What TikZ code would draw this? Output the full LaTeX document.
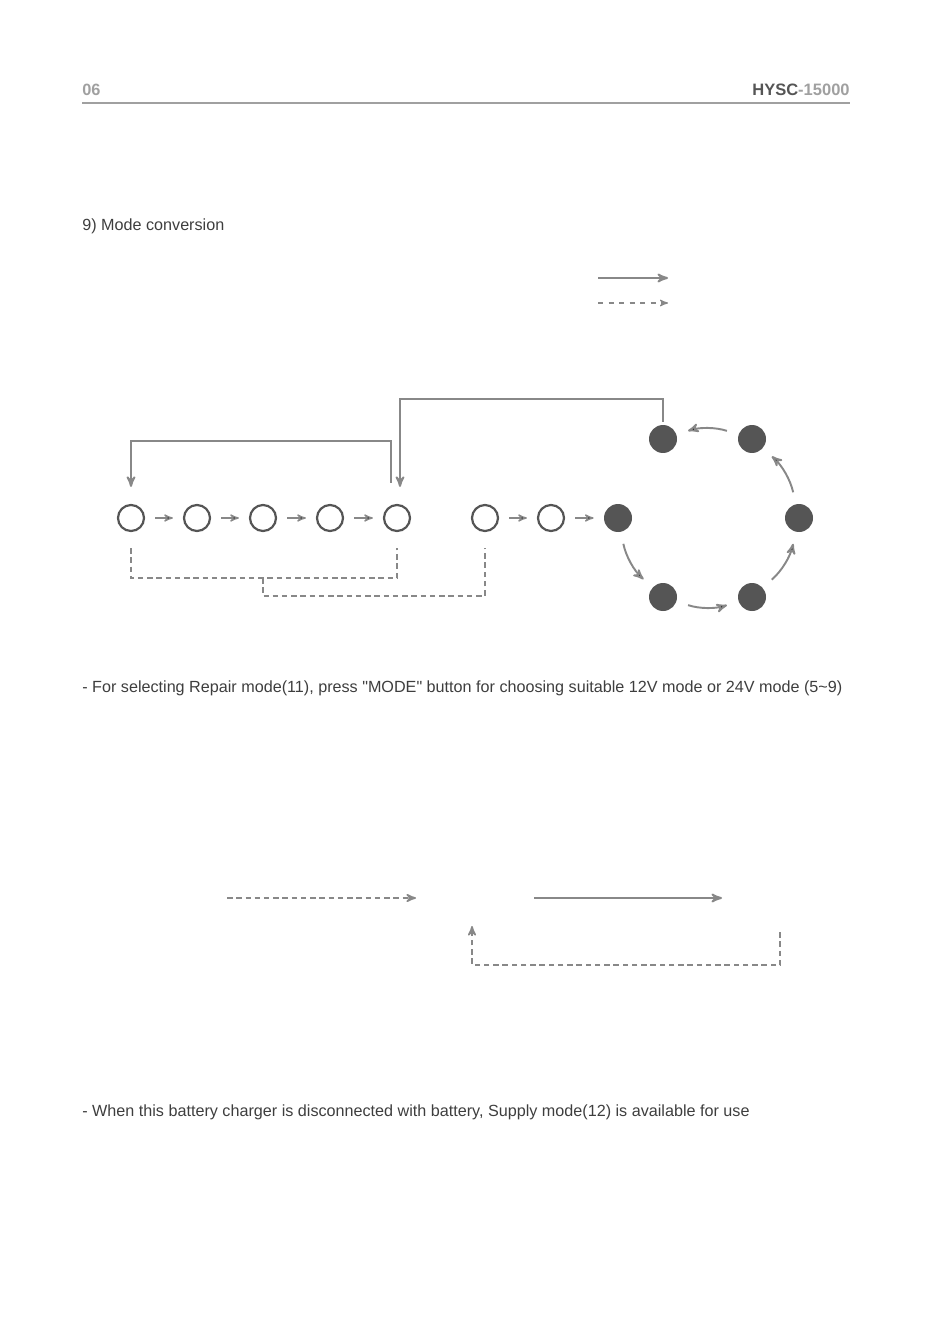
\documentclass[tikz,border=0pt]{standalone}
\usepackage{fontspec}
\setmainfont{Liberation Sans}[Ligatures=TeXOff]
\usepackage{xcolor}
\usetikzlibrary{arrows}

\definecolor{dgray}{HTML}{555555}
\definecolor{tgray}{HTML}{3E3E3E}
\definecolor{lgray}{HTML}{888888}
\definecolor{hgray}{HTML}{A0A0A0}

\tikzset{
  open/.style={circle,draw=dgray,line width=1.25pt,minimum size=0.52cm,inner sep=0pt},
  full/.style={circle,fill=dgray,minimum size=0.56cm,inner sep=0pt},
  flow/.style={->,>=stealth',draw=lgray,line width=1.1pt},
  back/.style={->,>=stealth',draw=lgray,line width=0.95pt,dash pattern=on 0.11cm off 0.075cm},
  txt/.style={anchor=west,inner sep=0pt,text=tgray,font=\fontsize{9.2}{11}\selectfont}
}

\begin{document}
\begin{tikzpicture}[x=0.02cm,y=-0.02cm]
\useasboundingbox (0,0) rectangle (933,1324);

% header
\node[anchor=west,inner sep=0pt,text=hgray,font=\bfseries\fontsize{9.3}{10}\selectfont] (P) at (82,90) {06};
\node[anchor=east,inner sep=0pt,font=\bfseries\fontsize{9.4}{10}\selectfont] (T) at (850,90) {\textcolor{dgray}{HYSC}\textcolor{hgray}{-15000}};
\draw[hgray,line width=0.6pt] (82,103) -- (850,103);

\node[txt] (H) at (82,226) {9) Mode conversion};

% legend
\coordinate (L1) at (598,278);
\coordinate (L2) at (668,278);
\coordinate (L3) at (598,303);
\coordinate (L4) at (668,303);
\draw[flow] (L1) -- (L2);
\draw[back,line width=0.7pt,dash pattern=on 0.1cm off 0.11cm] (L3) -- (L4);

% mode row
\node[open] (A1) at (131,518) {};
\node[open] (A2) at (197,518) {};
\node[open] (A3) at (263,518) {};
\node[open] (A4) at (330,518) {};
\node[open] (A5) at (397,518) {};
\node[open] (B1) at (485,518) {};
\node[open] (B2) at (551,518) {};

% ring
\node[full] (C1) at (618,518) {};
\node[full] (C2) at (663,597) {};
\node[full] (C3) at (752,597) {};
\node[full] (C4) at (799,518) {};
\node[full] (C5) at (752,439) {};
\node[full] (C6) at (663,439) {};

\path [->,>=stealth',draw=lgray,line width=0.8pt,shorten <=0.2cm,shorten >=0.2cm]
  (A1) edge (A2) (A2) edge (A3) (A3) edge (A4) (A4) edge (A5)
  (B1) edge (B2) (B2) edge (C1);

\path [flow,draw=lgray,shorten <=0.24cm,shorten >=0.24cm,bend right=18]
  (C1) edge (C2) (C2) edge (C3) (C3) edge (C4) (C4) edge (C5) (C5) edge (C6);

% loops
\draw[flow] ([xshift=-0.12cm,yshift=0.42cm]A5.north) -- ++(0,-42) -| ([yshift=0.34cm]A1.north);
\draw[flow] ([yshift=0.06cm]C6.north) -- ++(0,-23) -| ([xshift=0.06cm,yshift=0.34cm]A5.north);
\draw[back,-] ([yshift=-0.32cm]A1.south) -- ++(0,30) -| ([yshift=-0.32cm]A5.south);
\draw[back,-] ([yshift=-0.92cm]A3.south) -- ++(0,18) -| ([yshift=-0.32cm]B1.south);

\node[txt] (N1) at (82,688) {- For selecting Repair mode(11), press "MODE" button for choosing suitable 12V mode or 24V mode (5\textasciitilde 9)};

% supply mode
\coordinate (S1) at (227,898);
\coordinate (S2) at (416,898);
\coordinate (S3) at (534,898);
\coordinate (S4) at (722,898);
\coordinate (S5) at (780,932);
\coordinate (S6) at (472,926);
\draw[back] (S1) -- (S2);
\draw[flow] (S3) -- (S4);
\draw[back] (S5) |- (472,965) -- (S6);

\node[txt] (N2) at (82,1112) {- When this battery charger is disconnected with battery, Supply mode(12) is available for use};
\end{tikzpicture}
\end{document}
